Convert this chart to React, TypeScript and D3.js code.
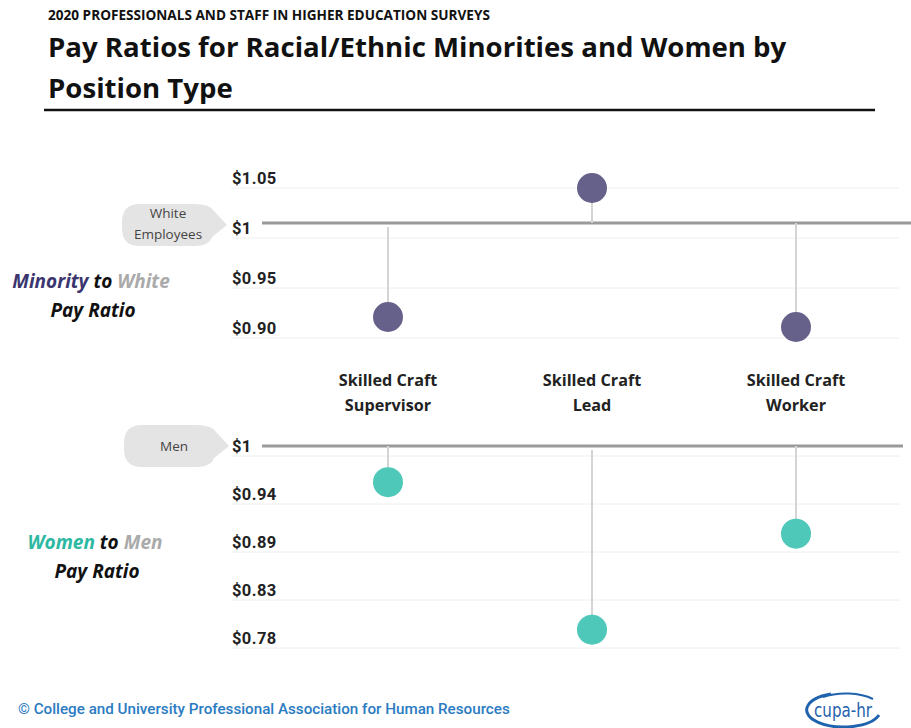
import React, { useEffect } from 'react';
import * as d3 from 'd3';

const categories = ['Skilled Craft Supervisor', 'Skilled Craft Lead', 'Skilled Craft Worker'];
const minorityRatio = [0.921, 1.05, 0.911];
const womenRatio = [0.97, 0.801, 0.911];
const minorityTicks = [1.05, 1, 0.95, 0.9];
const minorityTickLabels = ['$1.05', '$1', '$0.95', '$0.90'];
const womenTicks = [1, 0.945, 0.89, 0.835, 0.78];
const womenTickLabels = ['$1', '$0.94', '$0.89', '$0.83', '$0.78'];

const PURPLE = '#65618a';
const TEAL = '#4ec9b9';
const W = 911;
const H = 728;

const x = d3.scalePoint<string>().domain(categories).range([388, 796]);
const yTop = d3.scaleLinear().domain([0.9, 1.05]).range([338, 188]);
const yBot = d3.scaleLinear().domain([0.78, 1]).range([648, 456]);

// speech bubble pointing right, tip at (tx, ty)
const bubble = (tx: number, ty: number) => {
  const x1 = tx - 15, x0 = x1 - 90, y0 = ty - 21, y1 = ty + 21, r = 18;
  const p = d3.path();
  p.moveTo(x0 + r, y0);
  p.lineTo(x1 - r, y0);
  p.quadraticCurveTo(x1 - 2, y0, x1 + 2, y0 + 7);
  p.lineTo(tx, ty);
  p.lineTo(x1, y1 - 9);
  p.quadraticCurveTo(x1 - 3, y1, x1 - r, y1);
  p.lineTo(x0 + r, y1);
  p.quadraticCurveTo(x0, y1, x0, y1 - r);
  p.lineTo(x0, y0 + r);
  p.quadraticCurveTo(x0, y0, x0 + r, y0);
  p.closePath();
  return p.toString();
};

const Panel = ({ y, ticks, labels, values, color, refOffset, gridEnd, refEnd, stemStart }: any) => {
  const refY = y(1) - refOffset;
  return (
    <g>
      {ticks.map((t: number, i: number) => (
        <g key={t}>
          <line x1={231} x2={gridEnd} y1={y(t)} y2={y(t)} stroke="#eeeeee" strokeWidth={1} />
          <text x={232} y={y(t) - 4} fontFamily="Roboto" fontWeight={700} fontSize={16.5}
            letterSpacing={0.4} fill="#222">
            {labels[i]}
          </text>
        </g>
      ))}
      <line x1={262} x2={refEnd} y1={refY} y2={refY} stroke="#9a9a9a" strokeWidth={3} />
      {values.map((v: number, i: number) => (
        <line key={'s' + i} x1={x(categories[i])} x2={x(categories[i])}
          y1={refY + stemStart[i]} y2={y(v)} stroke="#d4d4d4" strokeWidth={2} />
      ))}
      {values.map((v: number, i: number) => (
        <circle key={'c' + i} cx={x(categories[i])} cy={y(v)} r={15} fill={color} />
      ))}
    </g>
  );
};

export default function App() {
  useEffect(() => {
    document.body.style.margin = '0';
  }, []);

  const topTip = yTop(1) - 13;
  const botTip = yBot(1) - 10;

  return (
    <svg width={W} height={H} style={{ display: 'block', background: '#fff' }}>
      <text x={48} y={20} fontFamily="Open Sans" fontWeight={700} fontSize={13.6} fill="#111">
        2020 PROFESSIONALS AND STAFF IN HIGHER EDUCATION SURVEYS
      </text>
      <text fontFamily="Open Sans" fontWeight={700} fontSize={27.6} fill="#111">
        <tspan x={48} y={57}>Pay Ratios for Racial/Ethnic Minorities and Women by</tspan>
        <tspan x={48} y={98}>Position Type</tspan>
      </text>
      <line x1={44} x2={875} y1={110} y2={110} stroke="#111" strokeWidth={2.5} />

      <Panel y={yTop} ticks={minorityTicks} labels={minorityTickLabels} values={minorityRatio}
        color={PURPLE} refOffset={15} gridEnd={899} refEnd={911} stemStart={[4, 0, 0]} />
      <Panel y={yBot} ticks={womenTicks} labels={womenTickLabels} values={womenRatio}
        color={TEAL} refOffset={10} gridEnd={900} refEnd={903} stemStart={[0, 4, 0]} />

      {categories.map((c) => {
        const [a, b] = [c.split(' ').slice(0, 2).join(' '), c.split(' ').slice(2).join(' ')];
        return (
          <text key={c} textAnchor="middle" fontFamily="Open Sans" fontWeight={700} fontSize={16.2} fill="#222">
            <tspan x={x(c)} y={386}>{a}</tspan>
            <tspan x={x(c)} y={411}>{b}</tspan>
          </text>
        );
      })}

      <path d={bubble(227, topTip)} fill="#e4e4e4" />
      <text textAnchor="middle" fontFamily="Open Sans" fontSize={13.5} fill="#444">
        <tspan x={168} y={topTip - 7}>White</tspan>
        <tspan x={168} y={topTip + 14}>Employees</tspan>
      </text>
      <path d={bubble(229, botTip)} fill="#e4e4e4" />
      <text x={174} y={botTip + 5} textAnchor="middle" fontFamily="Open Sans" fontSize={13.5} fill="#444">Men</text>

      <text textAnchor="middle" fontFamily="Open Sans" fontWeight={700} fontStyle="italic" fontSize={19}>
        <tspan x={91} y={288}><tspan fill="#3a356e">Minority</tspan><tspan fill="#111"> to </tspan><tspan fill="#aaaaaa">White</tspan></tspan>
        <tspan x={93} y={317} fill="#111">Pay Ratio</tspan>
      </text>
      <text textAnchor="middle" fontFamily="Open Sans" fontWeight={700} fontStyle="italic" fontSize={19}>
        <tspan x={95} y={549}><tspan fill="#2cb8a2">Women</tspan><tspan fill="#111"> to </tspan><tspan fill="#aaaaaa">Men</tspan></tspan>
        <tspan x={97} y={578} fill="#111">Pay Ratio</tspan>
      </text>

      <text x={18} y={714} fontFamily="Roboto" fontWeight={500} fontSize={15.2} fill="#2a7bc2">
        © College and University Professional Association for Human Resources
      </text>

      <g transform="translate(843,711)">
        <path d="M -12,-17 A 37,17 0 1,0 36,4" fill="none" stroke="#1f62ad" strokeWidth={3} />
        <path d="M -20,-14 A 37,17 0 0,1 30,-12" fill="none" stroke="#1f62ad" strokeWidth={2} />
        <text x={0} y={6} textAnchor="middle" fontFamily="DejaVu Sans Condensed, DejaVu Sans" fontSize={19}
          fill="#1f62ad" textLength={58} lengthAdjust="spacingAndGlyphs">cupa-hr</text>
      </g>
    </svg>
  );
}
